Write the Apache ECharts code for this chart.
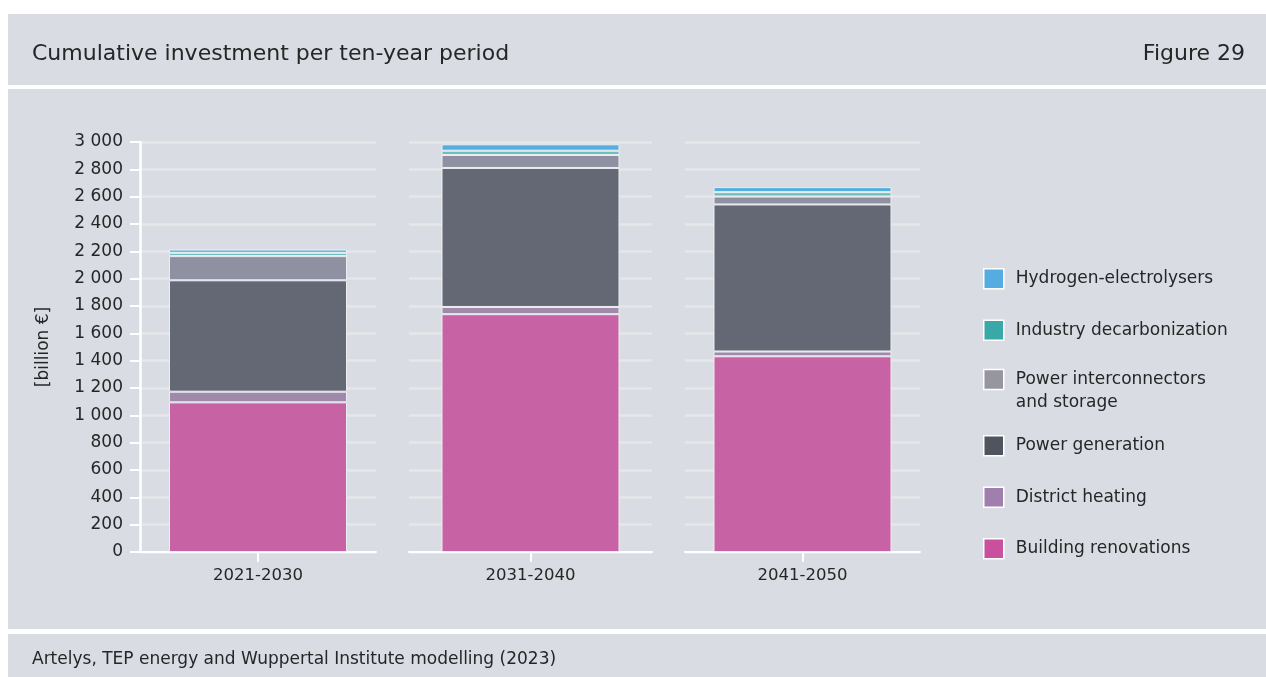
<!DOCTYPE html>
<html>
<head>
<meta charset="utf-8">
<script src="https://cdn.jsdelivr.net/npm/echarts@6/dist/echarts.min.js"></script>
<style>
html,body{margin:0;padding:0;background:#ffffff;}
#chart{position:absolute;left:0;top:0;width:1266px;height:677px;}
</style>
</head>
<body>
<div id="chart"></div>
<script>
// ---- data ----
const categories = ['2021-2030', '2031-2040', '2041-2050'];
const seriesNames = ['Building renovations', 'District heating', 'Power generation', 'Power interconnectors and storage', 'Industry decarbonization', 'Hydrogen-electrolysers'];
const buildingRenovations = [1095, 1740, 1432];
const districtHeating = [78, 53, 35];
const powerGeneration = [815, 1017, 1076];
const powerInterconnectors = [177, 95, 58];
const industryDecarbonization = [24, 31, 32];
const hydrogenElectrolysers = [24, 47, 37];
const yTicks = [0, 200, 400, 600, 800, 1000, 1200, 1400, 1600, 1800, 2000, 2200, 2400, 2600, 2800, 3000];

// ---- styles ----
const FONT = '"DejaVu Sans", "Open Sans", sans-serif';
const TXT = '#262626';
const barColors = ['#c762a5', '#a08aac', '#646874', '#8f91a3', '#6cbfbf', '#56aee0'];
const legendColors = ['#c9509e', '#a07fad', '#50545f', '#97959f', '#3aa8a8', '#54ade0'];
const allValues = [buildingRenovations, districtHeating, powerGeneration, powerInterconnectors, industryDecarbonization, hydrogenElectrolysers];

const gridBoxes = [
  {left: 140, width: 236},
  {left: 409, width: 243},
  {left: 685, width: 235}
];

const grids = gridBoxes.map(g => ({left: g.left, width: g.width, top: 142, height: 410, containLabel: false}));

const fmt = v => String(v).replace(/\B(?=(\d{3})+(?!\d))/g, ' ');

const xAxes = categories.map((c, i) => ({
  type: 'category',
  gridIndex: i,
  data: [c],
  boundaryGap: true,
  axisLine: {show: true, lineStyle: {color: '#ffffff', width: 2}},
  axisTick: {show: true, alignWithLabel: true, length: 10, lineStyle: {color: '#ffffff', width: 2}},
  axisLabel: {color: TXT, fontSize: 16.5, fontFamily: FONT, margin: 15}
}));

const yAxes = categories.map((c, i) => ({
  type: 'value',
  gridIndex: i,
  min: yTicks[0],
  max: yTicks[yTicks.length - 1],
  interval: yTicks[1] - yTicks[0],
  name: i === 0 ? '[billion €]' : '',
  nameLocation: 'middle',
  nameRotate: 90,
  nameGap: 88,
  nameTextStyle: {color: TXT, fontSize: 17, fontFamily: FONT},
  axisLine: {show: i === 0, lineStyle: {color: '#ffffff', width: 2.5}},
  axisTick: {show: i === 0, length: 10, lineStyle: {color: '#ffffff', width: 2}},
  axisLabel: {show: i === 0, color: TXT, fontSize: 17, fontFamily: FONT, margin: 17, formatter: fmt},
  splitLine: {show: true, lineStyle: {color: '#e6e7e9', width: 2.5}}
}));

const series = [];
categories.forEach((c, i) => {
  seriesNames.forEach((name, s) => {
    series.push({
      type: 'bar',
      name: name,
      xAxisIndex: i,
      yAxisIndex: i,
      stack: 'total' + i,
      barWidth: 178,
      data: [allValues[s][i]],
      itemStyle: {color: barColors[s], borderColor: '#eceef1', borderWidth: 1},
      emphasis: {disabled: true}
    });
  });
});

const legendBase = {
  orient: 'vertical',
  left: 983,
  padding: 0,
  itemWidth: 20,
  itemHeight: 20,
  itemGap: 30,
  selectedMode: false,
  icon: 'rect',
  textStyle: {color: TXT, fontSize: 17, fontFamily: FONT, lineHeight: 20, padding: [0, 0, 0, 7]}
};
const legendItem = s => ({name: seriesNames[s], itemStyle: {color: legendColors[s], borderColor: '#ffffff', borderWidth: 1.5}});

const legends = [
  Object.assign({}, legendBase, {top: 268, data: [legendItem(5), legendItem(4)]}),
  Object.assign({}, legendBase, {
    top: 345,
    data: [legendItem(3)],
    formatter: n => '\nPower interconnectors\nand storage',
    textStyle: {color: TXT, fontSize: 17, fontFamily: FONT, lineHeight: 23, padding: [0, 0, 0, 7]}
  }),
  Object.assign({}, legendBase, {top: 435, data: [legendItem(2), legendItem(1), legendItem(0)]})
];

const chart = echarts.init(document.getElementById('chart'), null, {renderer: 'canvas'});
chart.setOption({
  backgroundColor: '#ffffff',
  animation: false,
  graphic: [
    {type: 'rect', z: -10, shape: {x: 8, y: 14, width: 1258, height: 71}, style: {fill: '#d9dce3'}},
    {type: 'rect', z: -10, shape: {x: 8, y: 89, width: 1258, height: 540}, style: {fill: '#d9dce3'}},
    {type: 'rect', z: -10, shape: {x: 8, y: 634, width: 1258, height: 43}, style: {fill: '#d9dce3'}}
  ],
  title: [
    {text: 'Cumulative investment per ten-year period', left: 32, top: 41, padding: 0,
     textStyle: {color: TXT, fontSize: 22, fontWeight: 'normal', fontFamily: FONT, lineHeight: 26}},
    {text: 'Figure 29', right: 21, top: 41, padding: 0,
     textStyle: {color: TXT, fontSize: 22, fontWeight: 'normal', fontFamily: FONT, lineHeight: 26}},
    {text: 'Artelys, TEP energy and Wuppertal Institute modelling (2023)', left: 32, top: 650, padding: 0,
     textStyle: {color: TXT, fontSize: 17, fontWeight: 'normal', fontFamily: FONT, lineHeight: 20}}
  ],
  legend: legends,
  grid: grids,
  xAxis: xAxes,
  yAxis: yAxes,
  series: series
});
</script>
</body>
</html>
